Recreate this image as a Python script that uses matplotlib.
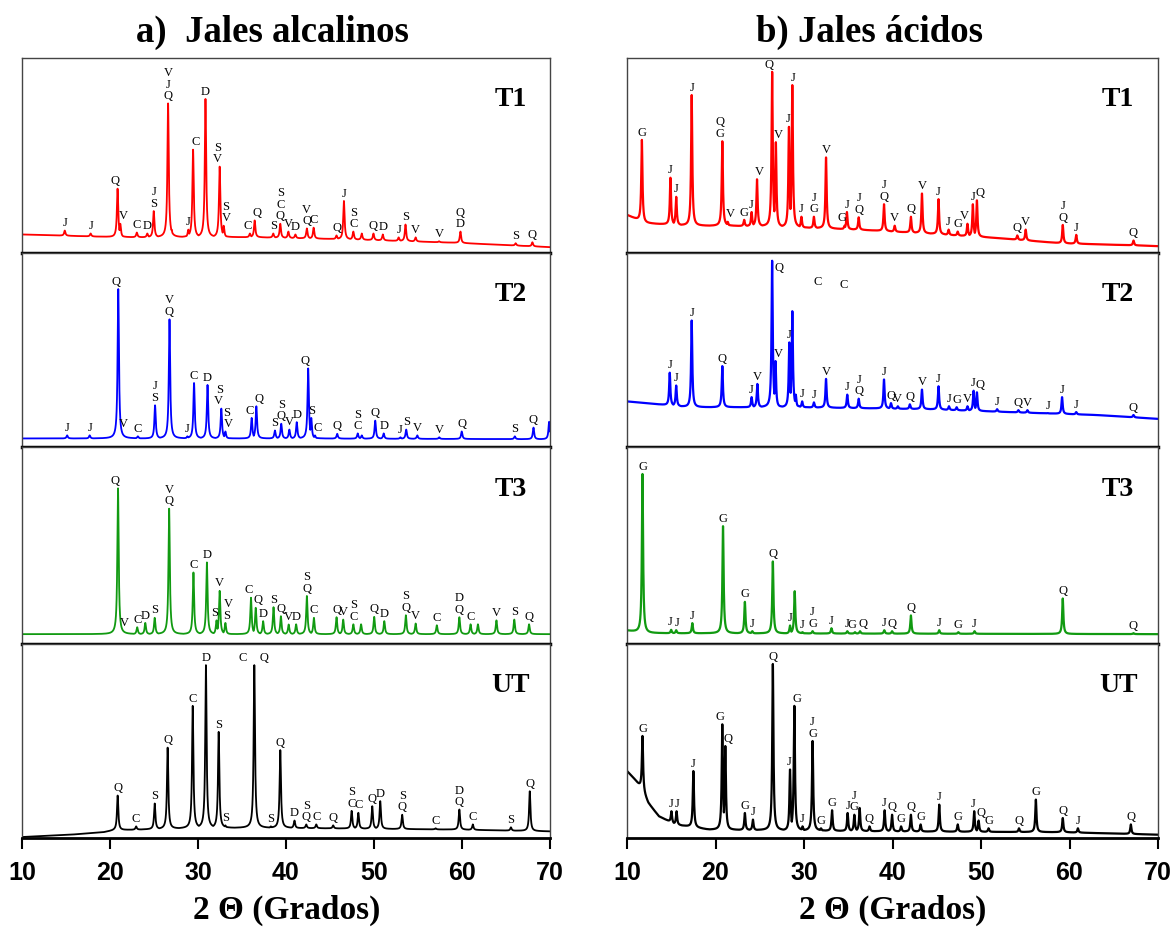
import numpy as np
import matplotlib
matplotlib.use("Agg")
from matplotlib import pyplot as plt

# ---------------- data (peak position 2theta, peak top as fraction of panel, label) ----------------
# a) Jales alcalinos
alc_t1_pos = [14.86, 17.8, 20.86, 21.17, 23.05, 24.24, 24.97, 26.6, 27.0, 28.9, 29.44, 30.85, 32.46, 32.92,
              35.9, 36.44, 38.55, 39.35, 40.27, 41.07, 42.37, 43.14, 45.74, 46.58, 47.65, 48.61, 49.94,
              51.0, 52.8, 53.58, 54.73, 57.4, 59.82, 66.1, 68.0]
alc_t1_top = [0.115, 0.10, 0.33, 0.15, 0.105, 0.10, 0.215, 0.767, 0.12, 0.12, 0.53, 0.79, 0.443, 0.14,
              0.10, 0.167, 0.10, 0.15, 0.11, 0.095, 0.126, 0.13, 0.09, 0.267, 0.11, 0.10, 0.10,
              0.095, 0.08, 0.146, 0.08, 0.06, 0.11, 0.05, 0.055]
alc_t1_lab = ['J', 'J', 'Q', 'V', 'C', 'D', 'J\nS', 'V\nJ\nQ', '', 'J', 'C', 'D', 'S\nV', 'S\nV',
              'C', 'Q', 'S', 'S\nC\nQ', 'V', 'D', 'V\nQ', 'C', 'Q', 'J', 'S\nC', '', 'Q',
              'D', 'J', 'S', 'V', 'V', 'Q\nD', 'S', 'Q']
alc_t1_bx = [10, 20.9, 36.4, 48, 59.5, 70]
alc_t1_by = [0.095, 0.081, 0.081, 0.069, 0.052, 0.03]

alc_t2_pos = [15.13, 17.69, 20.94, 21.25, 23.16, 25.12, 26.76, 28.79, 29.55, 31.08, 32.65, 33.11, 36.1,
              36.63, 38.74, 39.46, 40.38, 41.22, 42.52, 42.87, 43.29, 45.82, 48.15, 48.61, 50.14, 51.1,
              53.0, 53.66, 54.92, 57.41, 59.97, 66.0, 68.12, 69.9]
alc_t2_top = [0.06, 0.06, 0.814, 0.08, 0.055, 0.215, 0.658, 0.055, 0.33, 0.32, 0.198, 0.08, 0.15,
              0.21, 0.085, 0.12, 0.09, 0.128, 0.405, 0.15, 0.06, 0.068, 0.07, 0.06, 0.136, 0.07,
              0.05, 0.09, 0.06, 0.05, 0.08, 0.055, 0.10, 0.13]
alc_t2_lab = ['J', 'J', 'Q', 'V', 'C', 'J\nS', 'V\nQ', 'J', 'C', 'D', 'S\nV', 'S\nV', 'C',
              'Q', 'S', 'S\nQ', 'V', 'D', 'Q', 'S', 'C', 'Q', 'S\nC', '', 'Q', 'D',
              'J', 'S', 'V', 'V', 'Q', 'S', 'Q', '']
alc_t2_bx = [10, 40, 70]
alc_t2_by = [0.044, 0.044, 0.04]

alc_t3_pos = [20.91, 21.37, 23.09, 24.01, 25.08, 26.72, 29.48, 31.01, 32.1, 32.46, 33.11, 36.02, 36.56,
              37.4, 38.58, 39.42, 40.3, 41.15, 42.37, 43.17, 45.74, 46.5, 47.65, 48.53, 50.02, 51.17,
              53.62, 54.73, 57.14, 59.7, 60.97, 61.81, 63.91, 65.94, 67.62]
alc_t3_top = [0.79, 0.07, 0.085, 0.107, 0.133, 0.687, 0.363, 0.414, 0.12, 0.27, 0.107, 0.235, 0.184,
              0.116, 0.187, 0.141, 0.099, 0.10, 0.244, 0.133, 0.136, 0.124, 0.10, 0.10, 0.138, 0.116,
              0.146, 0.104, 0.095, 0.136, 0.10, 0.10, 0.12, 0.124, 0.10]
alc_t3_lab = ['Q', 'V', 'C', 'D', 'S', 'V\nQ', 'C', 'D', 'S', 'V', 'V\nS', 'C', 'Q',
              'D', 'S', 'Q', 'V', 'D', 'S\nQ', 'C', 'Q', 'V', 'S\nC', '', 'Q', 'D',
              'S\nQ', 'V', 'C', 'D\nQ', 'C', '', 'V', 'S', 'Q']
alc_t3_bx = [10, 70]
alc_t3_by = [0.05, 0.05]

alc_ut_pos = [20.87, 22.97, 25.08, 26.55, 29.4, 30.9, 32.35, 33.11, 36.4, 38.28, 39.35, 40.96, 42.3,
              43.44, 45.36, 47.46, 48.22, 49.8, 50.71, 53.2, 57.0, 59.7, 61.23, 65.56, 67.7]
alc_ut_top = [0.219, 0.06, 0.178, 0.466, 0.681, 0.891, 0.547, 0.065, 0.891, 0.06, 0.453, 0.09, 0.07,
              0.07, 0.065, 0.14, 0.13, 0.164, 0.19, 0.12, 0.05, 0.147, 0.07, 0.055, 0.241]
alc_ut_lab = ['Q', 'C', 'S', 'Q', 'C', 'D', 'S', 'S', 'C    Q', 'S', 'Q', 'D', 'S\nQ',
              'C', 'Q', 'S\nC', 'C', 'Q', 'D', 'S\nQ', 'C', 'D\nQ', 'C', 'S', 'Q']
alc_ut_bx = [10, 15.5, 19.3, 20.5, 30, 40, 60, 70]
alc_ut_by = [0.005, 0.017, 0.03, 0.04, 0.052, 0.052, 0.043, 0.034]

# b) Jales acidos
acid_t1_pos = [11.68, 14.91, 15.56, 17.31, 20.77, 21.38, 23.24, 24.08, 24.69, 26.4, 26.82, 28.3, 28.68,
               29.71, 31.12, 32.49, 34.58, 34.85, 36.18, 39.04, 40.25, 42.08, 43.33, 45.2, 46.34, 47.37,
               48.47, 49.08, 49.54, 54.1, 55.05, 59.24, 60.76, 67.23]
acid_t1_top = [0.58, 0.386, 0.288, 0.81, 0.573, 0.16, 0.17, 0.21, 0.378, 0.929, 0.568, 0.647, 0.861,
               0.186, 0.186, 0.49, 0.14, 0.21, 0.183, 0.25, 0.14, 0.186, 0.305, 0.276, 0.12, 0.11,
               0.15, 0.25, 0.27, 0.09, 0.12, 0.144, 0.093, 0.064]
acid_t1_lab = ['G', 'J', 'J', 'J', 'Q\nG', 'V', 'G', 'J', 'V', 'Q', 'V', 'J', 'J',
               'J', 'J\nG', 'V', 'G', 'J', 'J\nQ', 'J\nQ', 'V', 'Q', 'V', 'J', 'J', 'G',
               'V', 'J', 'Q', 'Q', 'V', 'J\nQ', 'J', 'Q']
acid_t1_bx = [10, 12, 17, 25, 36, 44, 52, 59, 69, 70]
acid_t1_by = [0.195, 0.153, 0.14, 0.138, 0.12, 0.10, 0.076, 0.05, 0.037, 0.035]

acid_t2_pos = [14.83, 15.56, 17.31, 20.77, 24.08, 24.73, 26.4, 26.78, 28.34, 28.68, 29.07, 29.79, 31.12,
               32.49, 34.89, 36.18, 39.04, 39.83, 40.6, 41.96, 43.33, 45.2, 46.38, 47.25, 48.47, 49.16,
               49.54, 51.82, 54.22, 55.24, 57.53, 59.16, 60.76, 67.23]
acid_t2_top = [0.383, 0.317, 0.652, 0.417, 0.257, 0.325, 0.96, 0.443, 0.539, 0.70, 0.27, 0.235, 0.23,
               0.351, 0.27, 0.249, 0.348, 0.226, 0.21, 0.22, 0.296, 0.313, 0.21, 0.205, 0.21, 0.29,
               0.282, 0.195, 0.19, 0.19, 0.175, 0.257, 0.18, 0.165]
acid_t2_lab = ['J', 'J', 'J', 'Q', 'J', 'V', 'Q', 'V', 'J', '', '', 'J', 'J',
               'V', 'J', 'J\nQ', 'J', 'Q', 'V', 'Q', 'V', 'J', 'J', 'G', 'V', 'J',
               'Q', 'J', 'Q', 'V', 'J', 'J', 'J', 'Q']
acid_t2_bx = [10, 17, 29, 44, 55, 63, 70]
acid_t2_by = [0.235, 0.205, 0.205, 0.195, 0.177, 0.165, 0.145]
acid_t2_free_x = [31.5, 34.5]
acid_t2_free_y = [0.856, 0.84]
acid_t2_free_lab = ['C', 'C']

acid_t3_pos = [11.75, 14.99, 15.56, 17.38, 20.85, 23.32, 24.16, 26.48, 28.42, 28.95, 29.83, 30.97, 33.1,
               34.89, 35.76, 36.33, 39.07, 39.95, 42.08, 45.28, 47.44, 49.27, 59.24, 67.23]
acid_t3_top = [0.863, 0.072, 0.07, 0.106, 0.598, 0.214, 0.065, 0.419, 0.094, 0.268, 0.06, 0.065, 0.08,
               0.065, 0.06, 0.065, 0.07, 0.065, 0.145, 0.07, 0.06, 0.065, 0.231, 0.055]
acid_t3_lab = ['G', 'J', 'J', 'J', 'G', 'G', 'J', 'Q', 'J', '', 'J', 'J\nG', 'J',
               'J', 'G', 'Q', 'J', 'Q', 'Q', 'J', 'G', 'J', 'Q', 'Q']
acid_t3_bx = [10, 12, 70]
acid_t3_by = [0.068, 0.055, 0.05]

acid_ut_pos = [11.75, 15.02, 15.6, 17.5, 20.77, 21.11, 23.32, 24.23, 26.48, 28.42, 28.91, 29.83, 30.97,
               31.92, 33.17, 34.93, 35.69, 36.29, 37.4, 39.11, 39.95, 40.97, 42.08, 43.18, 45.28, 47.37,
               49.23, 49.73, 50.85, 54.29, 56.2, 59.24, 60.95, 66.93]
acid_ut_top = [0.526, 0.138, 0.138, 0.345, 0.586, 0.474, 0.129, 0.095, 0.897, 0.353, 0.681, 0.06, 0.5,
               0.05, 0.143, 0.129, 0.12, 0.155, 0.06, 0.143, 0.12, 0.06, 0.12, 0.07, 0.172, 0.07,
               0.138, 0.09, 0.05, 0.05, 0.198, 0.103, 0.05, 0.07]
acid_ut_lab = ['G', 'J', 'J', 'J', 'G', 'Q', 'G', 'J', 'Q', 'J', 'G', 'J', 'J\nG',
               'G', 'G', 'J', 'J\nG', '', 'Q', 'J', 'Q', 'G', 'Q', 'G', 'J', 'G',
               'J', 'Q', 'G', 'Q', 'G', 'Q', 'J', 'Q']
acid_ut_bx = [10, 10.9, 11.7, 12.4, 13.6, 15.5, 19.3, 40.2, 59.2, 70]
acid_ut_by = [0.345, 0.30, 0.25, 0.18, 0.112, 0.069, 0.043, 0.034, 0.03, 0.017]

panel_names = ['T1', 'T2', 'T3', 'UT']
panel_colors = ['#ff0000', '#0000ff', '#119a11', '#000000']

alc_panels = [(alc_t1_pos, alc_t1_top, alc_t1_lab, alc_t1_bx, alc_t1_by),
              (alc_t2_pos, alc_t2_top, alc_t2_lab, alc_t2_bx, alc_t2_by),
              (alc_t3_pos, alc_t3_top, alc_t3_lab, alc_t3_bx, alc_t3_by),
              (alc_ut_pos, alc_ut_top, alc_ut_lab, alc_ut_bx, alc_ut_by)]
acid_panels = [(acid_t1_pos, acid_t1_top, acid_t1_lab, acid_t1_bx, acid_t1_by),
               (acid_t2_pos, acid_t2_top, acid_t2_lab, acid_t2_bx, acid_t2_by),
               (acid_t3_pos, acid_t3_top, acid_t3_lab, acid_t3_bx, acid_t3_by),
               (acid_ut_pos, acid_ut_top, acid_ut_lab, acid_ut_bx, acid_ut_by)]

# ---------------- layout ----------------
W, H = 1173, 928
SERIF = ['Liberation Serif', 'DejaVu Serif']
fig = plt.figure(figsize=(W / 100, H / 100), dpi=100)
rows = [59, 254, 448, 645, 839]          # panel borders in pixels
cols = [(22, 550), (627, 1158)]
xx = np.linspace(10, 70, 6001)


def pattern(pos, top, bx, by, width):
    # diffractogram drawn from the read peaks: baseline + narrow peak profiles
    base = np.interp(xx, bx, by)
    y = base.copy()
    for p, t in zip(pos, top):
        amp = t - np.interp(p, bx, by)
        y = np.maximum(y, base + amp / (1 + ((xx - p) / width) ** 2))
    return y


def put_labels(ax, pos, top, lab):
    marks = [(p, t, s) for p, t, s in zip(pos, top, lab) if s]
    for k, (p, t, s) in enumerate(marks):
        if t > 0.94:
            # peak reaches the frame: label goes beside its tip
            ax.text(p + 0.3, t, s, ha='left', va='top', fontsize=9, family=SERIF)
            continue
        near_left = k > 0 and p - marks[k - 1][0] < 0.65
        near_right = k < len(marks) - 1 and marks[k + 1][0] - p < 0.65
        ha, x = 'center', p
        if near_right and not near_left:
            ha, x = 'right', p + 0.2
        elif near_left and not near_right:
            ha, x = 'left', p - 0.2
        ax.text(x, t + 0.012, s, ha=ha, va='bottom', fontsize=9,
                family=SERIF, linespacing=0.95)


def draw_column(panels, col, width, lw):
    x0, x1 = cols[col]
    axes = []
    for i, (pos, top, lab, bx, by) in enumerate(panels):
        ax = fig.add_axes([x0 / W, 1 - rows[i + 1] / H, (x1 - x0) / W, (rows[i + 1] - rows[i]) / H])
        ax.plot(xx, pattern(pos, top, bx, by, width), color=panel_colors[i], lw=lw)
        put_labels(ax, pos, top, lab)
        ax.text(65.5, 0.79, panel_names[i], ha='center', va='center', fontsize=20,
                fontweight='bold', family=SERIF)
        ax.set_xlim(10, 70)
        ax.set_ylim(0, 1)
        ax.set_yticks([])
        for sp in ax.spines.values():
            sp.set_linewidth(1.0)
            sp.set_color('#444444')
        ax.spines['bottom'].set_color('black')
        ax.spines['bottom'].set_linewidth(2.5 if i < 3 else 2.0)
        if i < 3:
            ax.set_xticks([])
        else:
            ax.set_xticks(range(10, 71, 10))
            ax.tick_params(axis='x', direction='out', length=8, width=1.5, pad=8)
            for t in ax.get_xticklabels():
                t.set_fontsize(18)
                t.set_fontweight('bold')
                t.set_family(['Liberation Sans Narrow', 'Liberation Sans'])
        axes.append(ax)
    return axes


left_axes = draw_column(alc_panels, 0, 0.09, 1.3)
right_axes = draw_column(acid_panels, 1, 0.08, 1.6)

for fx, fy, s in zip(acid_t2_free_x, acid_t2_free_y, acid_t2_free_lab):
    right_axes[1].text(fx, fy, s, ha='center', va='center', fontsize=9, family=SERIF)

fig.text(272 / W, 1 - 32 / H, 'a)  Jales alcalinos', ha='center', va='center', fontsize=26.5,
         fontweight='bold', family=SERIF)
fig.text(870 / W, 1 - 32 / H, 'b) Jales ácidos', ha='center', va='center', fontsize=26.5,
         fontweight='bold', family=SERIF)
fig.text(287 / W, 1 - 910 / H, '2 Θ (Grados)', ha='center', va='center', fontsize=24,
         fontweight='bold', family=SERIF)
fig.text(893 / W, 1 - 910 / H, '2 Θ (Grados)', ha='center', va='center', fontsize=24,
         fontweight='bold', family=SERIF)

fig.savefig('out.png', dpi=100)
